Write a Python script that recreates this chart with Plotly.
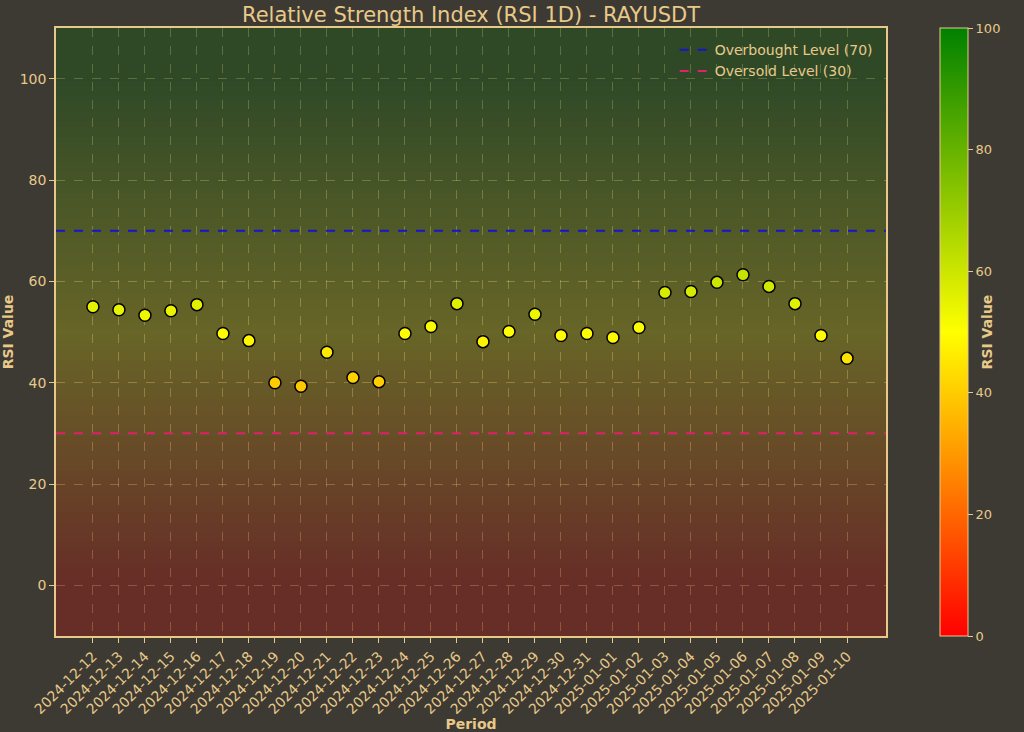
import plotly.graph_objects as go
import numpy as np

dates = ["2024-12-12","2024-12-13","2024-12-14","2024-12-15","2024-12-16","2024-12-17","2024-12-18","2024-12-19","2024-12-20","2024-12-21","2024-12-22","2024-12-23","2024-12-24","2024-12-25","2024-12-26","2024-12-27","2024-12-28","2024-12-29","2024-12-30","2024-12-31","2025-01-01","2025-01-02","2025-01-03","2025-01-04","2025-01-05","2025-01-06","2025-01-07","2025-01-08","2025-01-09","2025-01-10"]
rsi = [55.0,54.4,53.3,54.2,55.4,49.7,48.3,40.0,39.3,46.0,41.0,40.2,49.7,51.1,55.6,48.1,50.1,53.5,49.3,49.7,48.9,50.9,57.8,58.0,59.8,61.3,59.0,55.6,49.3,44.8]
overbought = 70
oversold = 30

txt = "#e8c98a"
cs = [[0, "red"], [0.5, "yellow"], [1, "green"]]
x = list(range(len(dates)))
xr = [-1.42, 30.5]

gy = np.linspace(-10, 110, 121)
fig = go.Figure()
fig.add_trace(go.Heatmap(x=xr, y=gy, z=[[v, v] for v in gy], colorscale=cs, zmin=0, zmax=100,
                         opacity=0.22, showscale=False, hoverinfo="skip"))
fig.add_trace(go.Scatter(x=xr, y=[overbought]*2, mode="lines", name="Overbought Level (70)",
                         line=dict(color="#1515d0", dash="dash", width=2)))
fig.add_trace(go.Scatter(x=xr, y=[oversold]*2, mode="lines", name="Oversold Level (30)",
                         line=dict(color="#e0206a", dash="dash", width=2)))
fig.add_trace(go.Scatter(x=x, y=rsi, mode="markers", showlegend=False,
                         marker=dict(size=12, color=rsi, colorscale=cs, cmin=0, cmax=100,
                                     line=dict(color="black", width=1.5),
                                     colorbar=dict(x=1.0655, xanchor="left", y=0, yanchor="bottom", len=1,
                                                   ypad=0, xpad=0,
                                                   thickness=28, outlinecolor=txt, outlinewidth=1,
                                                   tickvals=[0,20,40,60,80,100], tickfont=dict(color=txt, size=13),
                                                   ticks="outside", tickcolor=txt,
                                                   title=dict(text="<b>RSI Value</b>", side="right",
                                                              font=dict(color=txt, size=14))))))

ax = dict(showline=True, mirror=True, linecolor=txt, linewidth=1.5, gridcolor="rgba(232,201,138,0.35)",
          griddash="dash", zeroline=False, tickfont=dict(color=txt, size=14), ticks="outside", tickcolor=txt,
          automargin=False)
fig.update_xaxes(**ax, range=xr, tickvals=x, ticktext=dates, tickangle=-45,
                 title=dict(text="<b>Period</b>", font=dict(color=txt, size=14), standoff=2))
fig.update_yaxes(**ax, range=[-10, 110], tickvals=[0,20,40,60,80,100],
                 title=dict(text="<b>RSI Value</b>", font=dict(color=txt, size=14), standoff=8))
fig.update_layout(width=1024, height=732, paper_bgcolor="#3d3a33", plot_bgcolor="#3d3a33",
                  margin=dict(l=56, r=138, t=28, b=96, autoexpand=False),
                  font=dict(family="DejaVu Sans", color=txt),
                  title=dict(text="Relative Strength Index (RSI 1D) - RAYUSDT", x=0.46, xanchor="center",
                             y=0.99, yanchor="top", font=dict(size=21, color=txt)),
                  legend=dict(x=0.99, y=0.99, xanchor="right", yanchor="top", bgcolor="rgba(0,0,0,0)",
                              font=dict(size=14, color=txt)))
fig.write_html("out.html", config={"displayModeBar": False},
               post_script="document.body.style.margin='0';document.body.style.background='#3d3a33';")
